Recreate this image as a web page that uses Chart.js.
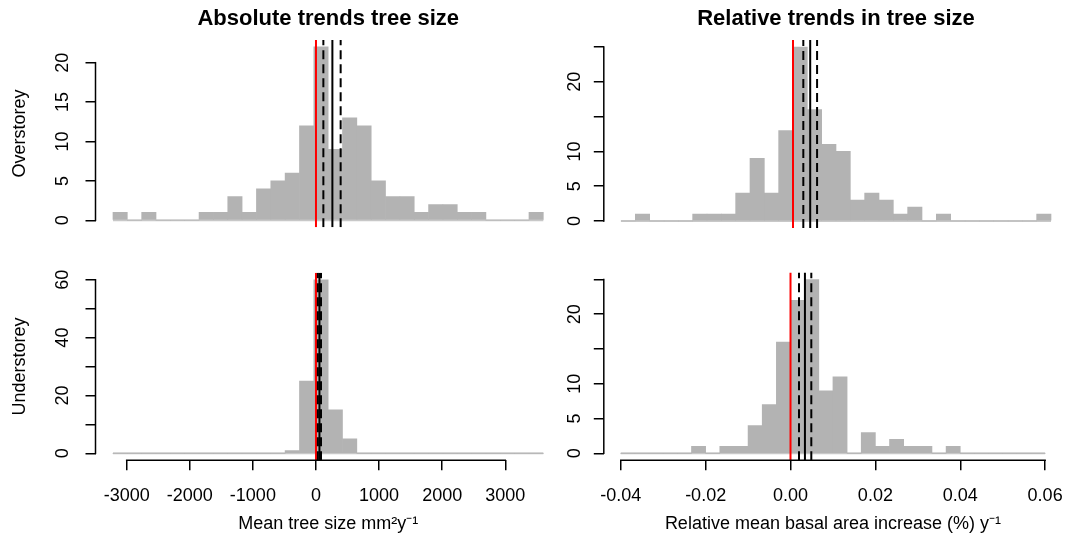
<!DOCTYPE html>
<html>
<head>
<meta charset="utf-8">
<script src="https://cdn.jsdelivr.net/npm/chart.js@4.4.1/dist/chart.umd.min.js"></script>
<style>
html, body { margin: 0; padding: 0; background: #ffffff; }
#wrap { position: relative; width: 1078px; height: 550px; overflow: hidden; background: #ffffff; }
canvas { position: absolute; }
</style>
</head>
<body>
<div id="wrap">
  <canvas id="tl" width="570" height="250" style="left:0px;top:0px"></canvas>
  <canvas id="tr" width="533" height="250" style="left:545px;top:0px"></canvas>
  <canvas id="bl" width="570" height="300" style="left:0px;top:250px"></canvas>
  <canvas id="br" width="533" height="300" style="left:545px;top:250px"></canvas>
</div>
<script>
// ---------------- DATA ----------------
// Histogram bin edges (30 bins each)
const absBinEdges = [-3217, -2990, -2762, -2535, -2308, -2080, -1853, -1626, -1398, -1171,
  -944, -716, -489, -262, -34, 193, 420, 648, 875, 1102, 1330, 1557, 1784, 2012, 2239,
  2466, 2693, 2921, 3148, 3375, 3603];
const relBinEdges = [-0.04, -0.036667, -0.033333, -0.03, -0.026667, -0.023333, -0.02,
  -0.016667, -0.013333, -0.01, -0.006667, -0.003333, 0, 0.003333, 0.006667, 0.01, 0.013333,
  0.016667, 0.02, 0.023333, 0.026667, 0.03, 0.033333, 0.036667, 0.04, 0.043333, 0.046667,
  0.05, 0.053333, 0.056667, 0.06];

// Counts per bin
const overstoreyAbsCounts = [1, 0, 1, 0, 0, 0, 1, 1, 3, 1, 4, 5, 6, 12, 22, 9, 13, 12, 5, 3, 3, 1, 2, 2, 1, 1, 0, 0, 0, 1];
const overstoreyRelCounts = [0, 1, 0, 0, 0, 1, 1, 1, 4, 9, 4, 13, 25, 16, 11, 10, 3, 4, 3, 1, 2, 0, 1, 0, 0, 0, 0, 0, 0, 1];
const understoreyAbsCounts = [0, 0, 0, 0, 0, 0, 0, 0, 0, 0, 0, 0, 1, 25, 60, 15, 5, 0, 0, 0, 0, 0, 0, 0, 0, 0, 0, 0, 0, 0];
const understoreyRelCounts = [0, 0, 0, 0, 0, 1, 0, 1, 1, 4, 7, 16, 22, 25, 9, 11, 0, 3, 1, 2, 1, 1, 0, 1, 0, 0, 0, 0, 0, 0];

// Reference line (zero) and [lower CI, mean, upper CI]
const zeroLine = 0;
const overstoreyAbsStats = [117, 260, 391];
const overstoreyRelStats = [0.0024, 0.0040, 0.0056];
const understoreyAbsStats = [30, 55, 80];
const understoreyRelStats = [0.0020, 0.0034, 0.0049];

// Axis ticks and labels
const absXTicks = [-3000, -2000, -1000, 0, 1000, 2000, 3000];
const absXLabels = ['-3000', '-2000', '-1000', '0', '1000', '2000', '3000'];
const relXTicks = [-0.04, -0.02, 0, 0.02, 0.04, 0.06];
const relXLabels = ['-0.04', '-0.02', '0.00', '0.02', '0.04', '0.06'];
const overAbsYTicks = [0, 5, 10, 15, 20];
const overAbsYLabels = ['0', '5', '10', '15', '20'];
const relYTicks = [0, 5, 10, 15, 20, 25];
const relYLabels = ['0', '5', '10', '', '20', ''];
const underAbsYTicks = [0, 10, 20, 30, 40, 50, 60];
const underAbsYLabels = ['0', '', '20', '', '40', '', '60'];

// Axis limits
const absXLimits = [-3494, 3883];
const relXLimits = [-0.044, 0.064];
const overAbsYLimits = [-0.88, 22.88];
const relYLimits = [-1, 26];
const underAbsYLimits = [-2.4, 62.4];

// Text
const titleAbs = 'Absolute trends tree size';
const titleRel = 'Relative trends in tree size';
const rowTop = 'Overstorey';
const rowBottom = 'Understorey';
const xTitleAbs = 'Mean tree size mm\u00B2y\u207B\u00B9';
const xTitleRel = 'Relative mean basal area increase (%) y\u207B\u00B9';

// ---------------- STYLE ----------------
const FONT = "'Liberation Sans', Arial, Helvetica, sans-serif";
Chart.defaults.font.family = FONT;
Chart.defaults.color = '#000000';
const BAR_GRAY = '#b3b3b3';
const BASE_GRAY = '#c8c8c8';

const rAxisLines = {
  id: 'rAxisLines',
  afterDraw(chart) {
    const { ctx, chartArea, scales } = chart;
    ctx.save();
    ctx.strokeStyle = '#000000';
    ctx.lineWidth = 1.5;
    const ys = scales.y;
    const yt = ys.ticks;
    ctx.beginPath();
    ctx.moveTo(chartArea.left, ys.getPixelForValue(yt[0].value) + 0.75);
    ctx.lineTo(chartArea.left, ys.getPixelForValue(yt[yt.length - 1].value) - 0.75);
    ctx.stroke();
    const xs = scales.x;
    if (xs.options.display) {
      const xt = xs.ticks;
      ctx.beginPath();
      ctx.moveTo(xs.getPixelForValue(xt[0].value) - 0.75, chartArea.bottom);
      ctx.lineTo(xs.getPixelForValue(xt[xt.length - 1].value) + 0.75, chartArea.bottom);
      ctx.stroke();
    }
    ctx.restore();
  }
};

function vline(v, yLim, color, dash) {
  return {
    type: 'line',
    data: [{ x: v, y: yLim[0] }, { x: v, y: yLim[1] }],
    borderColor: color, borderWidth: 2, borderDash: dash || [],
    pointRadius: 0, pointHoverRadius: 0, fill: false, tension: 0,
    order: color === '#000000' ? 0 : 1
  };
}

function makePanel(id, p) {
  const mids = p.edges.slice(0, -1).map((e, i) => (e + p.edges[i + 1]) / 2);
  const datasets = [
    {
      type: 'bar',
      data: mids.map((m, i) => ({ x: m, y: p.counts[i] })),
      backgroundColor: BAR_GRAY, borderWidth: 0,
      barPercentage: 1, categoryPercentage: 1, grouped: false, order: 2
    },
    {
      type: 'line',
      data: [{ x: p.edges[0], y: 0 }, { x: p.edges[p.edges.length - 1], y: 0 }],
      borderColor: BASE_GRAY, borderWidth: 2, pointRadius: 0, fill: false, order: 3
    },
    vline(zeroLine, p.yLim, '#ff0000'),
    vline(p.stats[0], p.yLim, '#000000', [9, 5]),
    vline(p.stats[1], p.yLim, '#000000'),
    vline(p.stats[2], p.yLim, '#000000', [9, 5])
  ];
  const axisGrid = { display: true, drawOnChartArea: false, drawTicks: true, tickLength: 10,
    color: '#000000', lineWidth: 1.5, offset: false };
  const tickFont = { size: 18, family: FONT };
  const cfg = {
    type: 'bar',
    data: { datasets },
    options: {
      responsive: false, animation: false, devicePixelRatio: 1,
      layout: { padding: p.padding },
      plugins: {
        legend: { display: false }, tooltip: { enabled: false },
        title: p.title ? {
          display: true, text: p.title, color: '#000000', fullSize: false,
          font: { size: 22, weight: 'bold', family: FONT },
          padding: { top: 6, bottom: 7.6 }
        } : { display: false }
      },
      scales: {
        x: {
          type: 'linear', min: p.xLim[0], max: p.xLim[1], offset: false,
          display: !!p.xTicks,
          afterBuildTicks: (s) => { if (p.xTicks) s.ticks = p.xTicks.map(v => ({ value: v })); },
          grid: axisGrid, border: { display: false },
          ticks: {
            autoSkip: false, minRotation: 0, maxRotation: 0, padding: 15, color: '#000000', font: tickFont,
            callback: (v, i) => (p.xLabels ? p.xLabels[i] : '')
          },
          title: p.xTitle ? {
            display: true, text: p.xTitle, color: '#000000', font: { size: 18, family: FONT },
            padding: { top: 0, bottom: 15 }
          } : { display: false },
          afterFit: (s) => { if (p.xHeight) s.height = p.xHeight; }
        },
        y: {
          type: 'linear', min: p.yLim[0], max: p.yLim[1],
          afterBuildTicks: (s) => { s.ticks = p.yTicks.map(v => ({ value: v })); },
          grid: axisGrid, border: { display: false },
          ticks: {
            autoSkip: false, minRotation: 90, maxRotation: 90, crossAlign: 'center',
            padding: p.yPad, color: '#000000', font: tickFont,
            callback: (v, i) => p.yLabels[i]
          },
          title: p.yTitle ? {
            display: true, text: p.yTitle, color: '#000000', font: { size: 18, family: FONT },
            padding: { top: 9.2, bottom: 0 }
          } : { display: false },
          afterFit: (s) => { s.width = p.yWidth; }
        }
      }
    },
    plugins: [rAxisLines]
  };
  return new Chart(document.getElementById(id), cfg);
}

makePanel('tl', {
  edges: absBinEdges, counts: overstoreyAbsCounts, stats: overstoreyAbsStats,
  xLim: absXLimits, yLim: overAbsYLimits, yTicks: overAbsYTicks, yLabels: overAbsYLabels,
  title: titleAbs, yTitle: rowTop, yWidth: 95.5, yPad: 12,
  padding: { left: 0, right: 9, top: 0, bottom: 22 }
});
makePanel('tr', {
  edges: relBinEdges, counts: overstoreyRelCounts, stats: overstoreyRelStats,
  xLim: relXLimits, yLim: relYLimits, yTicks: relYTicks, yLabels: relYLabels,
  title: titleRel, yWidth: 58.8, yPad: 8.5,
  padding: { left: 0, right: 9.8, top: 0, bottom: 22 }
});
makePanel('bl', {
  edges: absBinEdges, counts: understoreyAbsCounts, stats: understoreyAbsStats,
  xLim: absXLimits, yLim: underAbsYLimits, yTicks: underAbsYTicks, yLabels: underAbsYLabels,
  xTicks: absXTicks, xLabels: absXLabels, xTitle: xTitleAbs, xHeight: 89.7,
  yTitle: rowBottom, yWidth: 95.5, yPad: 12,
  padding: { left: 0, right: 9, top: 22.5, bottom: 0 }
});
makePanel('br', {
  edges: relBinEdges, counts: understoreyRelCounts, stats: understoreyRelStats,
  xLim: relXLimits, yLim: relYLimits, yTicks: relYTicks, yLabels: relYLabels,
  xTicks: relXTicks, xLabels: relXLabels, xTitle: xTitleRel, xHeight: 89.7,
  yWidth: 58.8, yPad: 8.5,
  padding: { left: 0, right: 9.8, top: 22.5, bottom: 0 }
});
</script>
</body>
</html>
